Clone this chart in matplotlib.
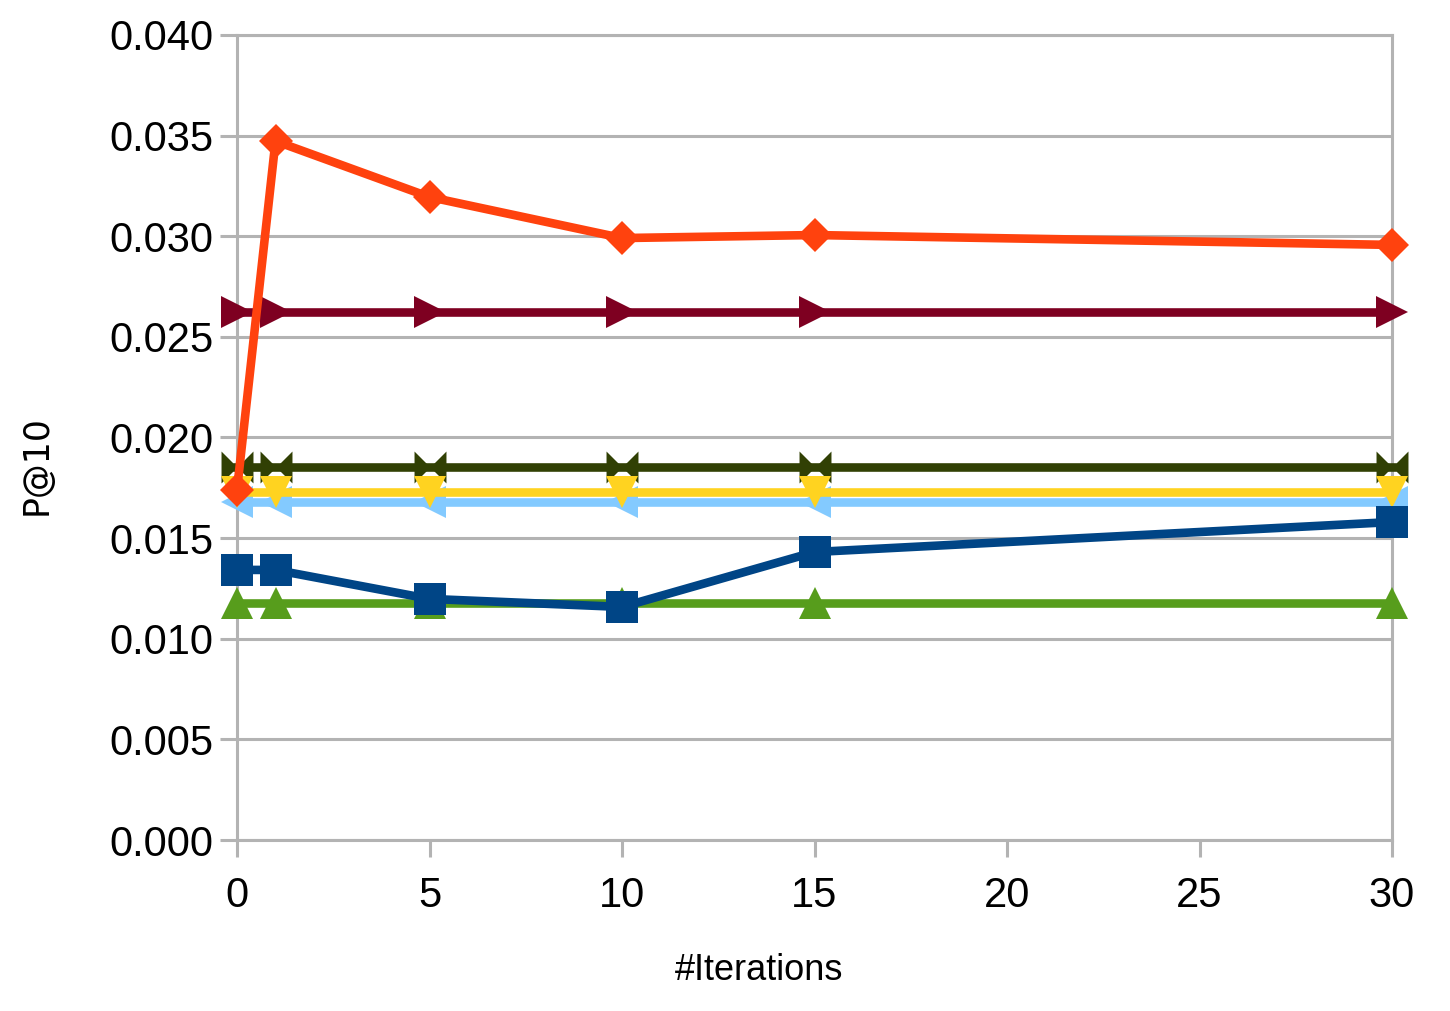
import numpy as np
import matplotlib.pyplot as plt
from matplotlib.path import Path

# iterations on the x axis
iterations = [0, 1, 5, 10, 15, 30]

# P@10 per series
blue_sq = [0.01342, 0.01342, 0.01198, 0.01158, 0.01431, 0.01580]
orange_dia = [0.01739, 0.03473, 0.03195, 0.02991, 0.03006, 0.02957]
yellow_down = [0.01729] * 6
green_up = [0.01178] * 6
red_right = [0.02624] * 6
lblue_left = [0.01680] * 6
olive_bow = [0.01853] * 6

x_ticks = [0, 5, 10, 15, 20, 25, 30]
y_ticks = [0.000, 0.005, 0.010, 0.015, 0.020, 0.025, 0.030, 0.035, 0.040]

# bow tie marker like the LibreOffice one
bowtie = Path(
    [(-1, 1), (0, 0), (-1, -1), (-1, 1), (1, 1), (0, 0), (1, -1), (1, 1)],
    [Path.MOVETO, Path.LINETO, Path.LINETO, Path.CLOSEPOLY,
     Path.MOVETO, Path.LINETO, Path.LINETO, Path.CLOSEPOLY],
)

series = [
    (blue_sq, "#004586", "s", 22.5),
    (orange_dia, "#ff420e", "D", 17),
    (yellow_down, "#ffd320", "v", 23),
    (green_up, "#579d1c", "^", 23),
    (red_right, "#7e0021", ">", 23),
    (lblue_left, "#83caff", "<", 23),
    (olive_bow, "#314004", bowtie, 23),
]

plt.rcParams['font.family'] = ['Liberation Sans', 'DejaVu Sans']

fig = plt.figure(figsize=(14.5, 10.11), dpi=100)
ax = fig.add_axes([237 / 1450, 171 / 1011, 1155 / 1450, 805 / 1011])

for i, (vals, col, mk, ms) in enumerate(series):
    ax.plot(iterations, vals, color=col, lw=6.2, marker=mk, markersize=ms,
            markeredgewidth=0, zorder=20 - i, clip_on=False)

grid_col = "#b3b3b3"
ax.set_xlim(0, 30)
ax.set_ylim(0, 0.04)
ax.set_xticks(x_ticks)
ax.set_yticks(y_ticks)
ax.set_yticklabels(["%.3f" % v for v in y_ticks])
ax.yaxis.grid(True, color=grid_col, lw=2.2)
ax.set_axisbelow(True)
for s in ax.spines.values():
    s.set_color(grid_col)
    s.set_linewidth(2.2)
ax.tick_params(axis='both', direction='out', length=12, width=2.2,
               color=grid_col, labelsize=30, labelcolor='black')
ax.tick_params(axis='x', pad=14)
ax.tick_params(axis='y', pad=5)

fig.text(759 / 1450, 1 - 971 / 1011, "#Iterations", fontsize=26,
         ha='center', va='center')
fig.text(37 / 1450, 1 - 465 / 1011, "P@10", fontsize=25, rotation=90,
         ha='center', va='center', family='DejaVu Sans')

fig.savefig("out.png", dpi=100)
